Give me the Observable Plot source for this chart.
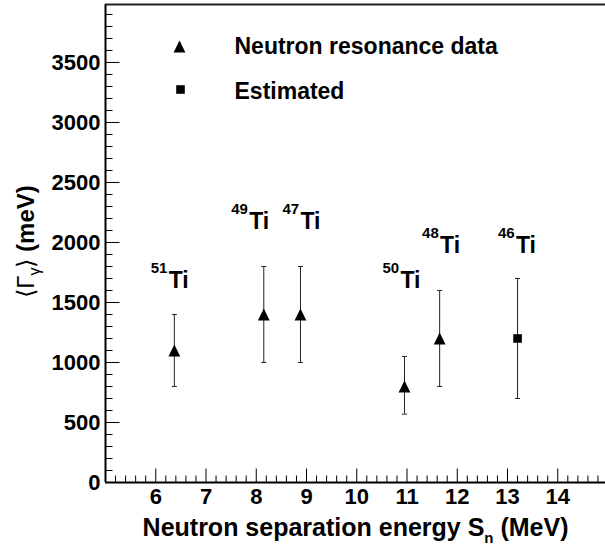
<!DOCTYPE html>
<html><head><meta charset="utf-8">
<script src="https://cdn.jsdelivr.net/npm/d3@7"></script>
<script src="https://cdn.jsdelivr.net/npm/@observablehq/plot@0.6"></script>
<style>
html,body{margin:0;padding:0;background:#fff;}
#chart svg{display:block;}
</style>
</head><body><div id="chart"></div>
<script>
// ---- data ----
const massNumbers = ["51", "49", "47", "50", "48", "46"];
const elementSymbol = "Ti";
const separationEnergy = [6.37, 8.15, 8.88, 10.95, 11.65, 13.20];   // MeV
const gammaWidth = [1100, 1400, 1400, 800, 1200, 1200];             // meV
const gammaLow = [800, 1000, 1000, 570, 800, 700];
const gammaHigh = [1400, 1800, 1800, 1050, 1600, 1700];
const dataSource = ["resonance", "resonance", "resonance", "resonance", "resonance", "estimated"];
const labelEnergy = [5.9, 7.5, 8.52, 10.51, 11.3, 12.81];
const labelGamma = [1620, 2110, 2110, 1620, 1910, 1910];
const legendLabels = ["Neutron resonance data", "Estimated"];
const xTickValues = [6, 7, 8, 9, 10, 11, 12, 13, 14];
const yTickValues = [0, 500, 1000, 1500, 2000, 2500, 3000, 3500];
const xTitle = "Neutron separation energy S_n (MeV)";
const yTitle = "<Gamma_gamma> (meV)";
const xDomain = [5, 14.95];
const yDomain = [0, 3983];

const rows = massNumbers.map((m, i) => ({
  mass: m, sn: separationEnergy[i], g: gammaWidth[i], lo: gammaLow[i], hi: gammaHigh[i],
  source: dataSource[i], lx: labelEnergy[i], ly: labelGamma[i]
}));
const xMinor = d3.range(5.2, 14.95, 0.2).filter(v => Math.abs(v - Math.round(v)) > 1e-6);
const yMinor = d3.range(100, 3983, 100).filter(v => v % 500 !== 0);

// ---- custom symbols ----
const triSym = {draw(c) { const h = 5.9; c.moveTo(0, -h); c.lineTo(h, h); c.lineTo(-h, h); c.closePath(); }};
const sqSym = {draw(c) { const h = 4.3; c.rect(-h, -h, 2 * h, 2 * h); }};
const capSym = {draw(c) { c.moveTo(-2.5, 0); c.lineTo(2.5, 0); }};
const tickUp = len => ({draw(c) { c.moveTo(0, 0); c.lineTo(0, -len); }});
const tickRight = len => ({draw(c) { c.moveTo(0, 0); c.lineTo(len, 0); }});

const resonance = rows.filter(d => d.source === "resonance");
const estimated = rows.filter(d => d.source === "estimated");

const svg = Plot.plot({
  width: 605,
  height: 545,
  marginLeft: 105,
  marginRight: 0,
  marginTop: 4,
  marginBottom: 63,
  x: {domain: xDomain, axis: null},
  y: {domain: yDomain, axis: null},
  style: {fontFamily: "'Liberation Sans', Arial, sans-serif", fontWeight: "bold", fontSize: "22px", color: "black", background: "white", overflow: "visible"},
  marks: [
    // ticks
    Plot.dot(xTickValues, {x: d => d, frameAnchor: "bottom", symbol: tickUp(14), fill: "none", stroke: "black", strokeWidth: 1}),
    Plot.dot(xMinor, {x: d => d, frameAnchor: "bottom", symbol: tickUp(7), fill: "none", stroke: "black", strokeWidth: 1}),
    Plot.dot(yTickValues, {y: d => d, frameAnchor: "left", symbol: tickRight(14), fill: "none", stroke: "black", strokeWidth: 1}),
    Plot.dot(yMinor, {y: d => d, frameAnchor: "left", symbol: tickRight(7), fill: "none", stroke: "black", strokeWidth: 1}),
    // frame lines
    Plot.ruleX([xDomain[0]], {stroke: "black", strokeWidth: 2}),
    Plot.ruleY([yDomain[0]], {stroke: "black", strokeWidth: 2}),
    Plot.ruleY([yDomain[1]], {stroke: "#222", strokeWidth: 2}),
    // tick labels
    Plot.text(xTickValues, {x: d => d, text: d => String(d), frameAnchor: "bottom", lineAnchor: "top", dy: 6, fontSize: 22, fontWeight: "bold"}),
    Plot.text(yTickValues, {y: d => d, text: d => String(d), frameAnchor: "left", textAnchor: "end", dx: -5, fontSize: 22, fontWeight: "bold"}),
    // error bars
    Plot.ruleX(rows, {x: "sn", y1: "lo", y2: "hi", stroke: "#222", strokeWidth: 1}),
    Plot.dot(rows, {x: "sn", y: "lo", symbol: capSym, fill: "none", stroke: "#222", strokeWidth: 1}),
    Plot.dot(rows, {x: "sn", y: "hi", symbol: capSym, fill: "none", stroke: "#222", strokeWidth: 1}),
    // markers
    Plot.dot(resonance, {x: "sn", y: "g", symbol: triSym, fill: "black", stroke: "none"}),
    Plot.dot(estimated, {x: "sn", y: "g", symbol: sqSym, fill: "black", stroke: "none"}),
    // isotope labels
    Plot.text(rows, {x: "lx", y: "ly", text: "mass", textAnchor: "start", lineAnchor: "bottom", dy: -15, fontSize: 15, fontWeight: "bold"}),
    Plot.text(rows, {x: "lx", y: "ly", text: () => elementSymbol, textAnchor: "start", lineAnchor: "bottom", dx: 18, fontSize: 23, fontWeight: "bold"}),
    // legend
    Plot.dot([legendLabels[0]], {frameAnchor: "top-left", dx: 74, dy: 42, symbol: triSym, fill: "black", stroke: "none"}),
    Plot.dot([legendLabels[1]], {frameAnchor: "top-left", dx: 75, dy: 85, symbol: sqSym, fill: "black", stroke: "none"}),
    Plot.text([legendLabels[0]], {text: d => d, frameAnchor: "top-left", textAnchor: "start", lineAnchor: "bottom", dx: 129, dy: 49, fontSize: 23, fontWeight: "bold"}),
    Plot.text([legendLabels[1]], {text: d => d, frameAnchor: "top-left", textAnchor: "start", lineAnchor: "bottom", dx: 129, dy: 94, fontSize: 23, fontWeight: "bold"}),
    // axis titles
    Plot.text([xTitle], {text: d => d, frameAnchor: "bottom-right", textAnchor: "end", lineAnchor: "bottom", dx: -37, dy: 53, fontSize: 25, fontWeight: "bold"}),
    Plot.text([yTitle], {text: d => d, frameAnchor: "left", rotate: -90, textAnchor: "middle", lineAnchor: "bottom", dx: -72, dy: -2, fontSize: 24, fontWeight: "bold"})
  ]
});

// rich text (sub/superscripts, greek) for axis titles
d3.select(svg).selectAll("text").each(function() {
  const t = this.textContent;
  const sel = d3.select(this);
  if (t === xTitle) {
    sel.text(null);
    sel.append("tspan").text("Neutron separation energy S");
    sel.append("tspan").attr("dy", 7).attr("font-size", "15px").text("n");
    sel.append("tspan").attr("dy", -7).text(" (MeV)");
  } else if (t === yTitle) {
    sel.text(null);
    sel.append("tspan").attr("font-weight", "normal").text("\u27E8\u0393");
    sel.append("tspan").attr("font-weight", "normal").attr("font-size", "16px").attr("dy", 6).text("\u03B3");
    sel.append("tspan").attr("font-weight", "normal").attr("dy", -6).text("\u27E9");
    sel.append("tspan").text(" (meV)");
  }
});

document.getElementById("chart").appendChild(svg);
</script>
</body></html>
